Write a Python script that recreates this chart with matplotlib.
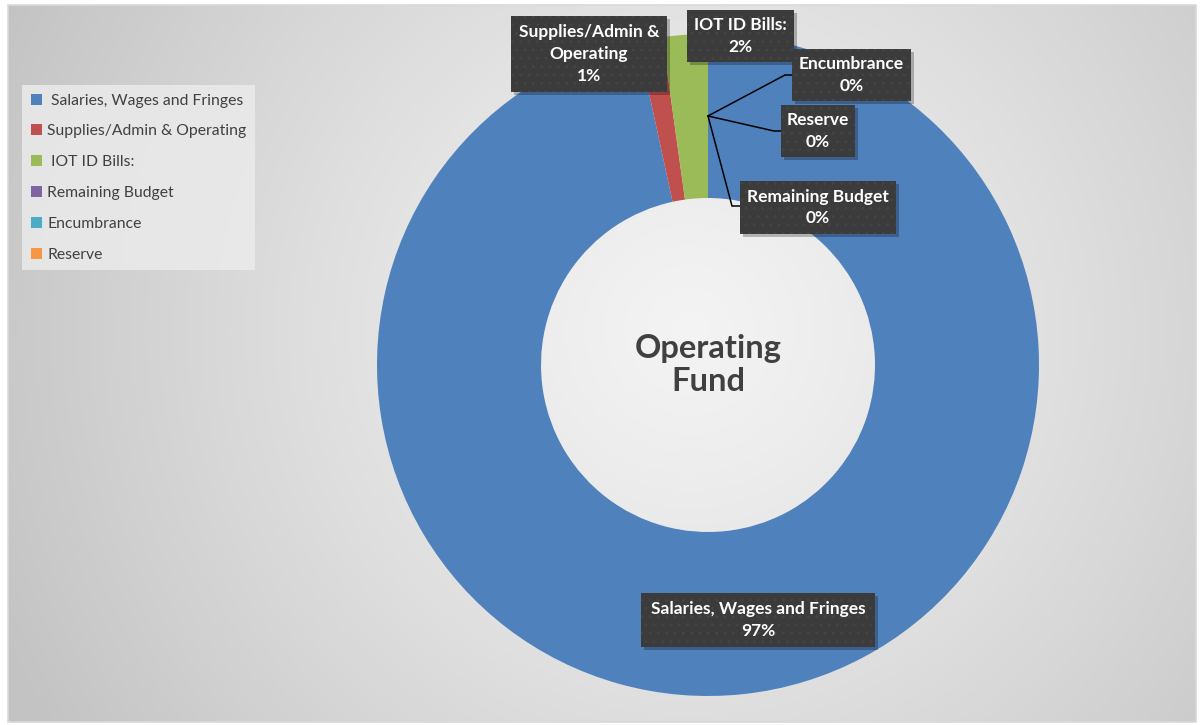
import numpy as np
import matplotlib
matplotlib.use('Agg')
import matplotlib.pyplot as plt
from matplotlib.patches import Rectangle

# ---------------- data ----------------
categories = ['Salaries, Wages and Fringes', 'Supplies/Admin & Operating', 'IOT ID Bills:',
              'Remaining Budget', 'Encumbrance', 'Reserve']
legend_labels = [' Salaries, Wages and Fringes', 'Supplies/Admin & Operating', ' IOT ID Bills:',
                 'Remaining Budget', 'Encumbrance', 'Reserve']
label_names = ['Salaries, Wages and Fringes', 'Supplies/Admin &\nOperating', 'IOT ID Bills:',
               'Remaining Budget', 'Encumbrance', 'Reserve']
values = [96.6, 1.2, 2.2, 0.0, 0.0, 0.0]
colors = ['#4F81BD', '#C0504D', '#9BBB59', '#8064A2', '#4BACC6', '#F79646']
center_title = 'Operating\nFund'

# ---------------- layout (pixels, y from top) ----------------
W, H = 1200, 725
FONT = 'Lato'
cx, cy = 708, 365
R_OUT, R_IN = 331, 167
# label boxes: centre x, centre y, width, height
boxes = [
    (758, 620, 234, 54),
    (589, 54, 156, 76),
    (740.5, 36, 107, 52),
    (818, 207.5, 156, 53),
    (851.5, 75, 119, 52),
    (818, 131, 74, 52),
]
# leader-line elbows (pixels) for labels needing leader lines
elbows = {3: (732, 206), 4: (785, 75), 5: (774, 131)}


def Y(py):
    return H - py


fig = plt.figure(figsize=(12, 7.25), dpi=100)
fig.patch.set_facecolor('white')
ax = fig.add_axes([0, 0, 1, 1])

# background radial gradient
x0, x1, y0, y1 = 8, 1196, 5, 722
gx = np.linspace(x0, x1, 600)
gy = np.linspace(y0, y1, 360)
GX, GY = np.meshgrid(gx, gy)
d = np.sqrt((GX - 690) ** 2 + (GY - 330) ** 2) / 760.0
d = np.clip(d, 0, 1)
inner = np.array([0.955, 0.955, 0.955])
outer = np.array([0.765, 0.765, 0.765])
img = inner[None, None, :] * (1 - d[..., None] ** 1.2) + outer[None, None, :] * (d[..., None] ** 1.2)
ax.imshow(img, extent=(x0, x1, Y(y1), Y(y0)), origin='upper', aspect='auto', zorder=0)
ax.add_patch(Rectangle((x0, Y(y1)), x1 - x0, y1 - y0, fill=False, edgecolor='#d9d9d9', lw=1.2, zorder=1))

# donut
wedges, _ = ax.pie(values, colors=colors, startangle=90, counterclock=False,
                   radius=R_OUT, center=(cx, Y(cy)),
                   wedgeprops=dict(width=R_OUT - R_IN, edgecolor='none', zorder=2),
                   frame=True)
for w in wedges:
    w.set_zorder(2)

# centre title
ax.text(cx, Y(cy), center_title, ha='center', va='center', fontsize=23.5, fontweight='bold',
        color='#404040', family=FONT, linespacing=1.2, zorder=3)

total = sum(values)
r_mid = (R_OUT + R_IN) / 2
plt.rcParams['hatch.linewidth'] = 0.8
for i, (name, v) in enumerate(zip(label_names, values)):
    bx, by, bw, bh = boxes[i]
    if i in elbows:
        w = wedges[i]
        th = np.deg2rad((w.theta1 + w.theta2) / 2)
        ax_, ay_ = cx + r_mid * np.cos(th), Y(cy) + r_mid * np.sin(th)
        ex, ey = elbows[i]
        ax.plot([ax_, ex, bx - bw / 2], [ay_, Y(ey), Y(ey)], color='black', lw=1.1, zorder=3,
                solid_joinstyle='miter')
    shadow = Rectangle((bx - bw / 2 + 3, Y(by + bh / 2) - 3), bw, bh, facecolor='black',
                       alpha=0.25, lw=0, zorder=3.5)
    ax.add_patch(shadow)
    rect = Rectangle((bx - bw / 2, Y(by + bh / 2)), bw, bh, facecolor='#3b3b3b',
                     edgecolor='#454545', hatch='..', lw=0, zorder=4)
    ax.add_patch(rect)
    pct = 100 * v / total
    ax.text(bx, Y(by), f'{name}\n{pct:.0f}%', ha='center', va='center', fontsize=12.5,
            fontweight='bold', color='white', family=FONT, linespacing=1.45, zorder=5)

# legend
leg = ax.legend(wedges, legend_labels, loc='upper left',
                bbox_to_anchor=(22 / W, 1 - 85 / H), bbox_transform=fig.transFigure,
                frameon=True, fancybox=False, borderaxespad=0, borderpad=0.55,
                labelspacing=1.07, handlelength=0.7, handleheight=0.7,
                handletextpad=0.35, prop=dict(family=FONT, size=11.3))
leg.get_frame().set_facecolor('#ebebeb')
leg.get_frame().set_edgecolor('none')
leg.get_frame().set_alpha(0.85)
for t in leg.get_texts():
    t.set_color('#404040')

ax.set_xlim(0, W)
ax.set_ylim(0, H)
ax.set_aspect('auto')
ax.axis('off')

fig.savefig('out.png', dpi=100, facecolor='white')
